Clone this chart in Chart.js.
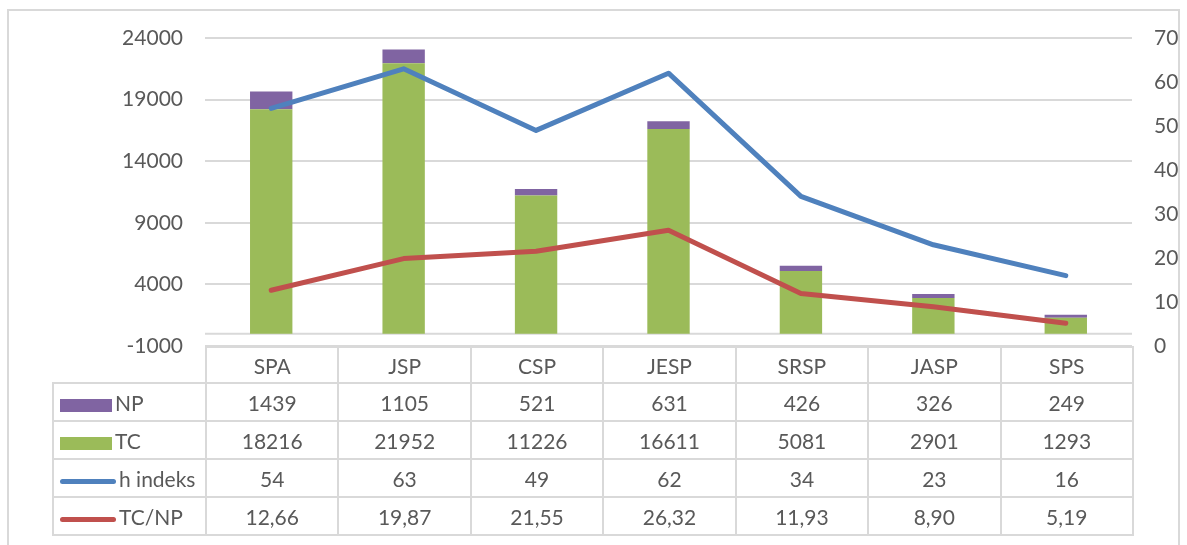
<!DOCTYPE html>
<html lang="id">
<head>
  <meta charset="UTF-8">
  <title>NP, TC, h indeks, TC/NP</title>
  <script src="https://cdn.jsdelivr.net/npm/chart.js"></script>
  <style>
    body { margin: 0; background: #fff; font-family: Lato, 'Noto Sans', sans-serif; }
    #wrap { position: relative; width: 1187px; height: 545px; overflow: hidden; }
    #frame { position: absolute; left: 7px; top: 9px; width: 1173px; height: 560px; border: 2px solid #d9d9d9; box-sizing: border-box; }
    #chart { position: absolute; left: 0; top: 0; }
    #dataTable { position: absolute; border-collapse: collapse; table-layout: fixed; color: #595959; font-size: 21px; }
    #dataTable td { border: 2px solid #d9d9d9; text-align: center; padding: 0; white-space: nowrap; }
    #dataTable td.empty { border: none; }
    #dataTable td.leg { text-align: left; padding-left: 6px; }
    .key { display: inline-block; vertical-align: middle; margin-right: 3px; }
    .key.bar { width: 52px; height: 13px; }
    .key.line { width: 56px; height: 5px; border-radius: 3px; }
  </style>
</head>
<body>
  <div id="wrap">
    <div id="frame"></div>
    <canvas id="chart" width="1187" height="545"></canvas>
    <table id="dataTable"></table>
  </div>

  <script>
    // data
    const categories = ['SPA', 'JSP', 'CSP', 'JESP', 'SRSP', 'JASP', 'SPS'];
    const np = [1439, 1105, 521, 631, 426, 326, 249];
    const tc = [18216, 21952, 11226, 16611, 5081, 2901, 1293];
    const hIndeks = [54, 63, 49, 62, 34, 23, 16];
    const tcPerNp = [12.66, 19.87, 21.55, 26.32, 11.93, 8.90, 5.19];

    const colors = { np: '#8064a2', tc: '#9bbb59', h: '#4f81bd', ratio: '#c0504d' };
    const gridColor = '#d9d9d9';
    const textColor = '#595959';
    const tickFont = { family: 'Lato', size: 21 };

    // horizontal axis line at value 0
    const zeroLine = {
      id: 'zeroLine',
      beforeDatasetsDraw(chart) {
        const y = chart.scales.y.getPixelForValue(0);
        const { left, right } = chart.chartArea;
        const ctx = chart.ctx;
        ctx.save();
        ctx.strokeStyle = gridColor;
        ctx.lineWidth = 2;
        ctx.beginPath();
        ctx.moveTo(left, y);
        ctx.lineTo(right, y);
        ctx.stroke();
        ctx.restore();
      }
    };

    const chart = new Chart(document.getElementById('chart'), {
      type: 'bar',
      data: {
        labels: categories,
        datasets: [
          { label: 'h indeks', type: 'line', data: hIndeks, yAxisID: 'y2', borderColor: colors.h,
            borderWidth: 5, pointRadius: 0, borderCapStyle: 'round', borderJoinStyle: 'round', order: 0 },
          { label: 'TC/NP', type: 'line', data: tcPerNp, yAxisID: 'y2', borderColor: colors.ratio,
            borderWidth: 5, pointRadius: 0, borderCapStyle: 'round', borderJoinStyle: 'round', order: 0 },
          { label: 'TC', data: tc, backgroundColor: colors.tc, yAxisID: 'y', stack: 's', order: 1 },
          { label: 'NP', data: np, backgroundColor: colors.np, yAxisID: 'y', stack: 's', order: 1 }
        ]
      },
      options: {
        responsive: false,
        animation: false,
        layout: { padding: { top: 38, bottom: 199, left: 0, right: 0 } },
        datasets: { bar: { categoryPercentage: 1, barPercentage: 0.32 } },
        plugins: { legend: { display: false }, tooltip: { enabled: false } },
        scales: {
          x: { display: false, stacked: true },
          y: {
            position: 'left', stacked: true, min: -1000, max: 24000,
            ticks: { stepSize: 5000, padding: 22, color: textColor, font: tickFont, callback: v => String(v) },
            grid: { color: gridColor, lineWidth: 2, drawTicks: false },
            border: { display: false },
            afterFit(scale) { scale.width = 205; }
          },
          y2: {
            position: 'right', min: 0, max: 70,
            ticks: { stepSize: 10, padding: 22, color: textColor, font: tickFont, callback: v => String(v) },
            grid: { display: false, drawTicks: false },
            border: { display: false },
            afterFit(scale) { scale.width = 55; }
          }
        }
      },
      plugins: [zeroLine]
    });

    // data table under the plot area
    function fmt(v) { return v.toFixed(2).replace('.', ','); }
    function buildTable() {
      const ca = chart.chartArea;
      const legendW = 153;
      const colW = (ca.right - ca.left) / categories.length;
      const table = document.getElementById('dataTable');
      table.style.left = (ca.left - legendW) + 'px';
      table.style.top = ca.bottom + 'px';
      table.style.width = (legendW + colW * categories.length) + 'px';

      let html = '<colgroup><col style="width:' + legendW + 'px">';
      categories.forEach(() => { html += '<col style="width:' + colW + 'px">'; });
      html += '</colgroup>';
      html += '<tr style="height:36px"><td class="empty"></td>' + categories.map(c => '<td>' + c + '</td>').join('') + '</tr>';

      const rows = [
        { name: 'NP', key: 'bar', color: colors.np, vals: np.map(String) },
        { name: 'TC', key: 'bar', color: colors.tc, vals: tc.map(String) },
        { name: 'h indeks', key: 'line', color: colors.h, vals: hIndeks.map(String) },
        { name: 'TC/NP', key: 'line', color: colors.ratio, vals: tcPerNp.map(fmt) }
      ];
      rows.forEach(r => {
        html += '<tr style="height:38px"><td class="leg"><span class="key ' + r.key + '" style="background:' + r.color + '"></span>' + r.name + '</td>';
        html += r.vals.map(v => '<td>' + v + '</td>').join('') + '</tr>';
      });
      table.innerHTML = html;
    }
    buildTable();
  </script>
</body>
</html>
